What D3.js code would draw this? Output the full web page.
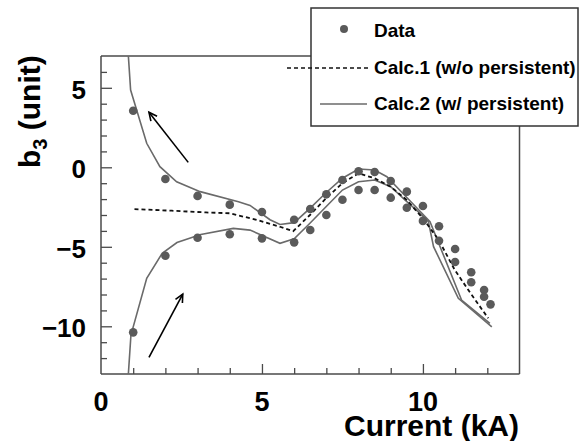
<!DOCTYPE html>
<html><head><meta charset="utf-8">
<script src="https://cdn.jsdelivr.net/npm/d3@7"></script>
<style>html,body{margin:0;padding:0;background:#fff;}svg{display:block;}text{font-family:"Liberation Sans",Arial,sans-serif;font-weight:bold;fill:#000;}</style>
</head><body>
<svg id="c" width="587" height="441"></svg>
<script>
// ---- data ----
const dataX = [1,1,2,2,3,3,4,4,5,5,6,6,6.5,6.5,7,7,7.5,7.5,8,8,8.5,8.5,9,9,9.5,9.5,10,10,10.5,10.5,11,11,11.5,11.5,11.9,11.9,12.1];
const dataY = [3.56,-10.38,-0.74,-5.56,-1.8,-4.43,-2.35,-4.21,-2.81,-4.47,-3.3,-4.72,-2.62,-3.94,-1.7,-3.0,-0.8,-2.04,-0.25,-1.43,-0.3,-1.43,-0.86,-1.91,-1.53,-2.54,-2.43,-3.37,-3.71,-4.62,-5.14,-5.96,-6.6,-7.23,-7.72,-8.14,-8.62];

const calc1X = [1.04,2.2,3.26,4.0,4.84,5.56,5.97,6.49,6.99,7.5,8.0,8.5,9.0,9.5,10.0,10.49,10.99,11.48,12.03];
const calc1Y = [-2.63,-2.73,-2.84,-2.89,-3.31,-3.74,-4.02,-3.0,-1.95,-1.0,-0.38,-0.69,-1.22,-2.06,-3.21,-4.57,-6.46,-7.92,-9.5];

const calc2UpX = [0.85,0.92,1.42,1.83,2.35,3.08,4.27,4.63,5.25,5.56,6.0,6.49,6.99,7.5,8.0,8.5,8.88,9.5,10.22,11.2,12.08];
const calc2UpY = [7.0,4.86,1.51,0.04,-0.91,-1.53,-2.16,-2.4,-3.3,-3.6,-3.48,-2.58,-1.6,-0.69,-0.11,-0.17,-0.59,-1.9,-3.42,-8.35,-9.81];

const calc2DnX = [0.85,0.93,1.42,1.9,2.36,3.1,4.11,4.63,5.56,6.0,6.49,6.99,7.5,8.0,8.5,9.0,9.5,9.91,10.17,10.33,11.1,12.14];
const calc2DnY = [-13.0,-10.55,-6.98,-5.41,-4.73,-4.23,-3.84,-3.95,-4.78,-4.5,-3.52,-2.48,-1.43,-0.91,-0.8,-1.22,-2.16,-2.9,-3.42,-4.99,-8.24,-10.03];

const arrowsFromX = [2.71, 1.49];
const arrowsFromY = [0.31, -11.95];
const arrowsToX = [1.49, 2.54];
const arrowsToY = [3.46, -7.97];

const xTickLabels = [0, 5, 10];
const yTickLabels = [5, 0, -5, -10];
const legendLabels = ["Data", "Calc.1 (w/o persistent)", "Calc.2 (w/ persistent)"];

// ---- chart ----
const svg = d3.select("#c");
const x = d3.scaleLinear().domain([0, 13]).range([101, 519.5]);
const y = d3.scaleLinear().domain([-13, 7]).range([374, 56]);
const frameCol = "#4a4a4a";
const grey = "#5a5a5a";

const plot = svg.append("g");
plot.append("clipPath").attr("id","clip").append("rect")
  .attr("x", x(0)).attr("y", y(7)).attr("width", x(13)-x(0)).attr("height", y(-13)-y(7));

// axes (ticks inside)
const yAxisMinor = d3.axisRight(y).tickValues(d3.range(-12, 7).filter(v => v % 5 !== 0)).tickSize(6).tickFormat("");
const yAxisMajor = d3.axisRight(y).tickValues(yTickLabels).tickSize(11).tickFormat("");
const xAxisMinor = d3.axisTop(x).tickValues(d3.range(1, 13).filter(v => v % 5 !== 0)).tickSize(6).tickFormat("");
const xAxisMajor = d3.axisTop(x).tickValues([5, 10]).tickSize(10).tickFormat("");
[[yAxisMinor, `translate(${x(0)},0)`], [yAxisMajor, `translate(${x(0)},0)`],
 [xAxisMinor, `translate(0,${y(-13)})`], [xAxisMajor, `translate(0,${y(-13)})`]].forEach(([ax, tr]) => {
  const g = plot.append("g").attr("transform", tr).call(ax);
  g.select(".domain").remove();
  g.selectAll("line").attr("stroke", frameCol).attr("stroke-width", 1.3);
});

// tick labels
plot.selectAll(".ylab").data(yTickLabels).enter().append("text")
  .attr("x", 86).attr("y", d => y(d) + 11).attr("text-anchor", "end")
  .style("font-size", "26px").text(d => d < 0 ? "\u2212" + Math.abs(d) : d);
plot.selectAll(".xlab").data(xTickLabels).enter().append("text")
  .attr("x", d => x(d)).attr("y", 411).attr("text-anchor", "middle")
  .style("font-size", "27px").text(d => d);

// frame
const fr = plot.append("g").attr("stroke", frameCol).attr("stroke-width", 1.5).attr("fill", "none");
fr.append("line").attr("x1", x(0)).attr("x2", x(0)).attr("y1", y(7)).attr("y2", y(-13));
fr.append("line").attr("x1", x(0)).attr("x2", x(13)).attr("y1", y(-13)).attr("y2", y(-13));
fr.append("line").attr("x1", x(0)).attr("x2", x(13)).attr("y1", y(7)).attr("y2", y(7));
fr.append("line").attr("x1", x(13)).attr("x2", x(13)).attr("y1", y(7)).attr("y2", y(-13));

// curves
const line = d3.line().x(d => x(d[0])).y(d => y(d[1]));
const cg = plot.append("g").attr("clip-path", "url(#clip)");
cg.append("path").datum(calc2UpX.map((v, i) => [v, calc2UpY[i]])).attr("d", line)
  .attr("fill", "none").attr("stroke", "#6a6a6a").attr("stroke-width", 1.6);
cg.append("path").datum(calc2DnX.map((v, i) => [v, calc2DnY[i]])).attr("d", line)
  .attr("fill", "none").attr("stroke", "#6a6a6a").attr("stroke-width", 1.6);
cg.append("path").datum(calc1X.map((v, i) => [v, calc1Y[i]])).attr("d", line)
  .attr("fill", "none").attr("stroke", "#111").attr("stroke-width", 1.8).attr("stroke-dasharray", "4,3");

// data points
cg.selectAll(".pt").data(dataX.map((v, i) => [v, dataY[i]])).enter().append("circle")
  .attr("cx", d => x(d[0])).attr("cy", d => y(d[1])).attr("r", 4.3).attr("fill", grey);

// arrows
arrowsFromX.forEach((fx, i) => {
  const x1 = x(fx), y1 = y(arrowsFromY[i]), x2 = x(arrowsToX[i]), y2 = y(arrowsToY[i]);
  const ang = Math.atan2(y2 - y1, x2 - x1);
  const g = plot.append("g").attr("stroke", "#000").attr("stroke-width", 1.6).attr("fill", "none");
  g.append("line").attr("x1", x1).attr("y1", y1).attr("x2", x2).attr("y2", y2);
  const L = 9, a = 0.45;
  g.append("path").attr("d", `M${x2 - L*Math.cos(ang - a)},${y2 - L*Math.sin(ang - a)} L${x2},${y2} L${x2 - L*Math.cos(ang + a)},${y2 - L*Math.sin(ang + a)}`);
});

// axis titles
svg.append("text").attr("x", 519).attr("y", 436).attr("text-anchor", "end")
  .style("font-size", "30px").text("Current (kA)");
const yt = svg.append("text").attr("transform", "translate(40,168) rotate(-90)")
  .style("font-size", "30px");
yt.append("tspan").text("b");
yt.append("tspan").attr("dy", 7).style("font-size", "20px").text("3");
yt.append("tspan").attr("dy", -7).text(" (unit)");

// legend
const lg = svg.append("g");
lg.append("rect").attr("x", 311).attr("y", 8).attr("width", 267).attr("height", 118)
  .attr("fill", "#fff").attr("stroke", "#333").attr("stroke-width", 1.5);
lg.append("circle").attr("cx", 344).attr("cy", 29).attr("r", 4).attr("fill", grey);
lg.append("line").attr("x1", 287).attr("x2", 371).attr("y1", 68).attr("y2", 68)
  .attr("stroke", "#111").attr("stroke-width", 1.6).attr("stroke-dasharray", "4,3");
lg.append("line").attr("x1", 320).attr("x2", 367).attr("y1", 104).attr("y2", 104)
  .attr("stroke", "#6a6a6a").attr("stroke-width", 1.6);
lg.selectAll(".lt").data(legendLabels).enter().append("text")
  .attr("x", 374).attr("y", (d, i) => [37, 74, 110][i])
  .style("font-size", "19px").text(d => d);
</script>
</body></html>
